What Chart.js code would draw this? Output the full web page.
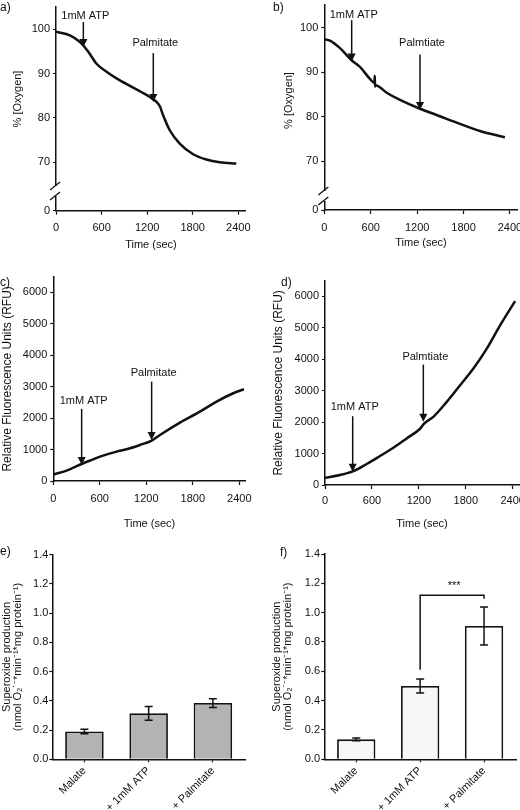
<!DOCTYPE html>
<html>
<head>
<meta charset="utf-8">
<script src="https://cdn.jsdelivr.net/npm/chart.js@4.4.1/dist/chart.umd.min.js"></script>
<style>
  html, body { margin: 0; padding: 0; background: #fff; }
  #fig { position: relative; width: 520px; height: 810px; overflow: hidden; background: #fff;
         font-family: 'Liberation Sans', Arial, sans-serif; color: #111; }
  .panel { position: absolute; }
  .tag { position: absolute; font-size: 12px; line-height: 12px; }
</style>
</head>
<body>
<div id="fig">
  <div class="panel" style="left:0;top:0"><canvas id="chA" width="260" height="260"></canvas></div>
  <div class="panel" style="left:260px;top:0"><canvas id="chB" width="280" height="260"></canvas></div>
  <div class="panel" style="left:0;top:260px"><canvas id="chC" width="260" height="280"></canvas></div>
  <div class="panel" style="left:260px;top:260px"><canvas id="chD" width="280" height="280"></canvas></div>
  <div class="panel" style="left:0;top:520px"><canvas id="chE" width="260" height="290"></canvas></div>
  <div class="panel" style="left:260px;top:520px"><canvas id="chF" width="280" height="290"></canvas></div>
  <div class="tag" style="left:0;top:1px">a)</div>
  <div class="tag" style="left:273px;top:1px">b)</div>
  <div class="tag" style="left:0;top:276px">c)</div>
  <div class="tag" style="left:281px;top:276px">d)</div>
  <div class="tag" style="left:0;top:545px">e)</div>
  <div class="tag" style="left:280px;top:546px">f)</div>
</div>
<script>
Chart.defaults.font.family = "'Liberation Sans', Arial, sans-serif";
Chart.defaults.color = '#111';
Chart.defaults.animation = false;

// shared ticks
const timeTicks = [0, 600, 1200, 1800, 2400];
const oxyTicks = [70, 80, 90, 100];
const oxyZeroTick = [0];
const rfuTicks = [0, 1000, 2000, 3000, 4000, 5000, 6000];
const barTicks = [0, 0.2, 0.4, 0.6, 0.8, 1.0, 1.2, 1.4];

// a) oxygen, control
const aTime = [0, 184, 315, 365, 425, 534, 666, 797, 1016, 1235, 1323, 1367, 1410, 1498, 1629, 1805, 1980, 2155, 2374];
const aOxygen = [99.4, 98.6, 97.1, 96.2, 94.9, 92.2, 90.4, 88.9, 86.8, 84.7, 83.6, 82.6, 80.6, 77.2, 74.2, 71.8, 70.6, 70.0, 69.7];
// b) oxygen, second condition
const bTime = [0, 73, 203, 353, 461, 590, 648, 652, 656, 662, 806, 978, 1237, 1452, 1754, 2012, 2335];
const bOxygen = [97.4, 97.1, 95.4, 92.7, 91.2, 88.5, 87.6, 89.2, 86.8, 87.1, 85.4, 83.8, 81.8, 80.4, 78.4, 76.8, 75.4];
// c) fluorescence, control
const cTime = [0, 172, 366, 516, 602, 817, 946, 1118, 1269, 1376, 1634, 1892, 2107, 2322, 2460];
const cRfu = [210, 329, 541, 690, 775, 934, 1008, 1146, 1285, 1465, 1858, 2208, 2527, 2792, 2919];
// d) fluorescence, second condition
const dTime = [0, 192, 362, 533, 703, 874, 1044, 1215, 1270, 1385, 1556, 1727, 1897, 2068, 2238, 2430];
const dRfu = [230, 317, 440, 667, 921, 1185, 1481, 1790, 1960, 2169, 2646, 3175, 3704, 4339, 5079, 5852];

// arrows: time, label value, shaft top value, tip value
const aArrows = [
  { t: 360, label: 103.0, from: 101.6, to: 96.0, text: '1mM ATP' },
  { t: 1281, label: 96.9, from: 94.6, to: 83.6, text: 'Palmitate' }
];
const bArrows = [
  { t: 354, label: 102.9, from: 101.7, to: 92.4, text: '1mM ATP' },
  { t: 1237, label: 96.6, from: 94.0, to: 81.5, text: 'Palmtiate' }
];
const cArrows = [
  { t: 366, label: 2549, from: 2294, to: 510, text: '1mM ATP' },
  { t: 1269, label: 3450, from: 3163, to: 1306, text: 'Palmitate' }
];
const dArrows = [
  { t: 354, label: 2486, from: 2190, to: 422, text: '1mM ATP' },
  { t: 1257, label: 4073, from: 3832, to: 2010, text: 'Palmtiate' }
];

// e, f) superoxide production
const barLabels = ['Malate', '+ 1mM ATP', '+ Palmitate'];
const eMean = [0.19, 0.315, 0.385];
const eErr = [0.016, 0.047, 0.03];
const fMean = [0.136, 0.5, 0.909];
const fErr = [0.009, 0.048, 0.13];
const fBracket = { from: 1, to: 2, leftEnd: 0.61, top: 1.118, rightEnd: 1.095, textAt: 1.185, text: '***' };

const INK = '#111';
const tickFont = { size: 11 };
const titleFont = { size: 11 };

function points(xs, ys) { return xs.map((x, i) => ({ x: x, y: ys[i] })); }
const plain = v => String(v);

function arrowPlugin(arrows) {
  return {
    id: 'arrows',
    afterDatasetsDraw(chart) {
      const { ctx } = chart;
      const x = chart.scales.x, y = chart.scales.y;
      ctx.save();
      ctx.strokeStyle = INK; ctx.fillStyle = INK; ctx.lineWidth = 1.5;
      ctx.font = "11px 'Liberation Sans', Arial, sans-serif";
      ctx.textAlign = 'center'; ctx.textBaseline = 'middle';
      arrows.forEach(a => {
        const px = x.getPixelForValue(a.t);
        const top = y.getPixelForValue(a.from), tip = y.getPixelForValue(a.to);
        ctx.beginPath(); ctx.moveTo(px, top); ctx.lineTo(px, tip - 6); ctx.stroke();
        ctx.beginPath(); ctx.moveTo(px - 4, tip - 8); ctx.lineTo(px + 4, tip - 8); ctx.lineTo(px, tip); ctx.closePath(); ctx.fill();
        ctx.fillText(a.text, px + 2, y.getPixelForValue(a.label));
      });
      ctx.restore();
    }
  };
}

function breakPlugin() {
  return {
    id: 'axisBreak',
    afterDraw(chart) {
      const { ctx } = chart;
      const ys = chart.scales.y;
      const x = ys.right, b = ys.bottom;
      ctx.save();
      ctx.fillStyle = '#fff'; ctx.fillRect(x - 2, b - 5, 4, 10);
      ctx.strokeStyle = INK; ctx.lineWidth = 1.3;
      [-5, 5].forEach(d => {
        ctx.beginPath(); ctx.moveTo(x - 6, b + d + 4); ctx.lineTo(x + 4, b + d - 4); ctx.stroke();
      });
      ctx.restore();
    }
  };
}

function errorPlugin(errs) {
  return {
    id: 'errorBars',
    afterDatasetsDraw(chart) {
      const { ctx } = chart;
      const y = chart.scales.y;
      const means = chart.data.datasets[0].data;
      ctx.save();
      ctx.strokeStyle = INK; ctx.lineWidth = 1.5;
      chart.getDatasetMeta(0).data.forEach((bar, i) => {
        const top = y.getPixelForValue(means[i] + errs[i]);
        const bot = y.getPixelForValue(means[i] - errs[i]);
        ctx.beginPath();
        ctx.moveTo(bar.x, top); ctx.lineTo(bar.x, bot);
        ctx.moveTo(bar.x - 4, top); ctx.lineTo(bar.x + 4, top);
        ctx.moveTo(bar.x - 4, bot); ctx.lineTo(bar.x + 4, bot);
        ctx.stroke();
      });
      ctx.restore();
    }
  };
}

function bracketPlugin(br) {
  return {
    id: 'bracket',
    afterDatasetsDraw(chart) {
      const { ctx } = chart;
      const x = chart.scales.x, y = chart.scales.y;
      const x1 = x.getPixelForValue(br.from), x2 = x.getPixelForValue(br.to);
      ctx.save();
      ctx.strokeStyle = INK; ctx.lineWidth = 1.5;
      ctx.beginPath();
      ctx.moveTo(x1, y.getPixelForValue(br.leftEnd));
      ctx.lineTo(x1, y.getPixelForValue(br.top));
      ctx.lineTo(x2, y.getPixelForValue(br.top));
      ctx.lineTo(x2, y.getPixelForValue(br.rightEnd));
      ctx.stroke();
      ctx.fillStyle = INK;
      ctx.font = "11px 'Liberation Sans', Arial, sans-serif";
      ctx.textAlign = 'center'; ctx.textBaseline = 'middle';
      ctx.fillText(br.text, (x1 + x2) / 2 + 2, y.getPixelForValue(br.textAt));
      ctx.restore();
    }
  };
}

function axisBits(tickLen) {
  return {
    grid: { drawOnChartArea: false, color: INK, tickLength: tickLen, tickWidth: 1.2 },
    border: { color: INK, width: 1.5 }
  };
}

function timeAxis(g) {
  return Object.assign({
    type: 'linear', min: 0, max: g.xMax,
    afterBuildTicks: s => { s.ticks = timeTicks.map(v => ({ value: v })); },
    afterFit: s => { s.height = g.xH; s.paddingLeft = 0; s.paddingRight = 0; },
    ticks: { font: tickFont, padding: g.xTickPad, maxRotation: 0, autoSkip: false, callback: plain },
    title: { display: true, text: 'Time (sec)', font: titleFont, padding: { top: 0, bottom: g.xTitlePad } }
  }, axisBits(4));
}

function fixY(g) {
  return s => { s.width = g.yW; s.paddingTop = 0; s.paddingBottom = 0; };
}

// a, b: oxygen traces with a broken y axis (left boxes are laid out in reverse order)
function oxygenChart(id, xs, ys, arrows, g) {
  new Chart(document.getElementById(id), {
    type: 'line',
    data: { datasets: [{ data: points(xs, ys), borderColor: INK, borderWidth: 2.5, pointRadius: 0,
                         cubicInterpolationMode: 'monotone', yAxisID: 'y' }] },
    options: {
      responsive: false, devicePixelRatio: 1,
      layout: { padding: g.pad },
      plugins: { legend: { display: false }, tooltip: { enabled: false } },
      scales: {
        y0: Object.assign({
          position: 'left', stack: 'ox', stackWeight: g.lowerH, min: 0, max: 4,
          afterBuildTicks: s => { s.ticks = oxyZeroTick.map(v => ({ value: v })); },
          afterFit: fixY(g),
          ticks: { font: tickFont, padding: 3, callback: plain }
        }, axisBits(3)),
        y: Object.assign({
          position: 'left', stack: 'ox', stackWeight: g.upperH, min: g.yMin, max: g.yMax,
          afterBuildTicks: s => { s.ticks = oxyTicks.map(v => ({ value: v })); },
          afterFit: fixY(g),
          ticks: { font: tickFont, padding: 3, callback: plain },
          title: { display: true, text: '% [Oxygen]', font: titleFont, padding: { top: g.yTitlePad, bottom: 0 } }
        }, axisBits(3)),
        x: timeAxis(g)
      }
    },
    plugins: [arrowPlugin(arrows), breakPlugin()]
  });
}

// c, d: fluorescence traces
function rfuChart(id, xs, ys, arrows, g) {
  new Chart(document.getElementById(id), {
    type: 'line',
    data: { datasets: [{ data: points(xs, ys), borderColor: INK, borderWidth: 2.5, pointRadius: 0,
                         cubicInterpolationMode: 'monotone' }] },
    options: {
      responsive: false, devicePixelRatio: 1,
      layout: { padding: g.pad },
      plugins: { legend: { display: false }, tooltip: { enabled: false } },
      scales: {
        y: Object.assign({
          position: 'left', min: 0, max: 6500,
          afterBuildTicks: s => { s.ticks = rfuTicks.map(v => ({ value: v })); },
          afterFit: fixY(g),
          ticks: { font: tickFont, padding: 3, callback: plain },
          title: { display: true, text: 'Relative Fluorescence Units (RFU)', font: { size: 12 },
                   padding: { top: g.yTitlePad, bottom: 0 } }
        }, axisBits(3)),
        x: timeAxis(g)
      }
    },
    plugins: [arrowPlugin(arrows)]
  });
}

// e, f: superoxide bars
function barChart(id, means, errs, fills, g, extra) {
  const plugins = [errorPlugin(errs)];
  if (extra) plugins.push(extra);
  new Chart(document.getElementById(id), {
    type: 'bar',
    data: { labels: barLabels,
            datasets: [{ data: means, backgroundColor: fills, borderColor: INK, borderWidth: 1.8,
                         barPercentage: 0.6, categoryPercentage: 1.0 }] },
    options: {
      responsive: false, devicePixelRatio: 1,
      layout: { padding: g.pad },
      plugins: { legend: { display: false }, tooltip: { enabled: false } },
      scales: {
        y: Object.assign({
          min: 0, max: 1.4,
          afterBuildTicks: s => { s.ticks = barTicks.map(v => ({ value: v })); },
          afterFit: fixY(g),
          ticks: { font: tickFont, padding: g.yTickPad, callback: v => v.toFixed(1) },
          title: { display: true,
                   text: ['Superoxide production', '(nmol O\u2082\u02D9\u207B*min\u207B\u00B9*mg protein\u207B\u00B9)'],
                   font: { size: 11, lineHeight: 1.0 }, padding: { top: g.yTitlePad, bottom: 0 } }
        }, axisBits(3)),
        x: Object.assign({
          afterFit: s => { s.height = g.xH; s.paddingLeft = 0; s.paddingRight = 0; },
          ticks: { font: tickFont, padding: 2, minRotation: 45, maxRotation: 45, autoSkip: false }
        }, axisBits(3), { grid: { drawOnChartArea: false, color: INK, tickLength: 3, tickWidth: 1.2, offset: false } })
      }
    },
    plugins: plugins
  });
}

oxygenChart('chA', aTime, aOxygen, aArrows, {
  pad: { left: 0, top: 7, right: 14.1, bottom: 0 }, yW: 56, xH: 49.3, xMax: 2500,
  yMax: 105, yMin: 63.5, upperH: 184, lowerH: 19.7, yTitlePad: 11.4, xTitlePad: 8.4, xTickPad: 6.5
});
oxygenChart('chB', bTime, bOxygen, bArrows, {
  pad: { left: 0, top: 5, right: 22.3, bottom: 0 }, yW: 64.3, xH: 50, xMax: 2500,
  yMax: 105.1, yMin: 62.2, upperH: 191, lowerH: 14, yTitlePad: 22.7, xTitlePad: 10.1, xTickPad: 7
});
rfuChart('chC', cTime, cRfu, cArrows, {
  pad: { left: 0, top: 16.7, right: 14.5, bottom: 0 }, yW: 53.3, xH: 59, xMax: 2480,
  yTitlePad: 0.1, xTitlePad: 9.1, xTickPad: 7.5
});
rfuChart('chD', dTime, dRfu, dArrows, {
  pad: { left: 0, top: 20.7, right: 21, bottom: 0 }, yW: 65, xH: 55, xMax: 2480,
  yTitlePad: 11.1, xTitlePad: 9.1, xTickPad: 5.7
});
barChart('chE', eMean, eErr, ['#b3b3b3', '#b3b3b3', '#b3b3b3'], {
  pad: { left: 0, top: 34.7, right: 15, bottom: 0 }, yW: 52.3, xH: 50.7, yTitlePad: 1.2, yTickPad: 1
});
barChart('chF', fMean, fErr, ['#f7f7f7', '#f7f7f7', '#ffffff'], {
  pad: { left: 0, top: 34, right: 24, bottom: 0 }, yW: 64.3, xH: 50.7, yTitlePad: 11.2, yTickPad: 1.3
}, bracketPlugin(fBracket));
</script>
</body>
</html>
